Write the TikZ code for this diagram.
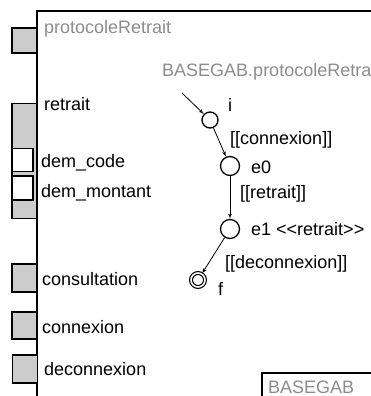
\documentclass[tikz,border=0pt]{standalone}
\usepackage{fontspec}
\setmainfont{Liberation Sans}
\usetikzlibrary{arrows,positioning}
\tikzset{
    port/.style={rectangle, draw, line width=1.6pt, fill=black!20, minimum width=25pt, inner sep=0pt},
    param/.style={rectangle, draw, line width=1.6pt, fill=white, minimum width=21pt, inner sep=0pt},
    lbl/.style={anchor=base west, inner sep=0pt, font=\fontsize{18}{20}\selectfont},
    ghost/.style={lbl, text=black!45},
    state/.style={circle, draw, line width=1.3pt, inner sep=0pt, minimum size=19pt},
    final/.style={circle, draw, double, double distance=1.6pt, line width=1.2pt, inner sep=0pt, minimum size=14pt},
    trans/.style={draw, -latex', line width=0.8pt}
}

\begin{document}
\begin{tikzpicture}[x=1pt, y=-1pt]
    \useasboundingbox (0,0) rectangle (371,396);

    % Frame of the component
    \draw[line width=2pt] (37,396) -- (37,11) -- (371,11);
    \draw[line width=2pt] (262,396) -- (262,373) -- (371,373);

    % Ports
    \node [port, minimum height=25pt] (pProto) at (24.5,40.5) {};
    \node [port, minimum height=115pt] (pRetrait) at (24.5,161) {};
    \node [param, minimum height=23pt] (pCode) at (22.5,160) {};
    \node [param, minimum height=24pt] (pMontant) at (22.5,188) {};
    \node [port, minimum height=28pt] (pConsult) at (24.5,278) {};
    \node [port, minimum height=27pt] (pConnex) at (24.5,325.5) {};
    \node [port, minimum height=28pt] (pDeconnex) at (25,369) {};

    % Port labels
    \node [ghost] (lProto) at (44,34) {protocoleRetrait};
    \node [lbl] (lRetrait) at (44,110) {retrait};
    \node [lbl] (lCode) at (41,167) {dem\_code};
    \node [lbl] (lMontant) at (41,197) {dem\_montant};
    \node [lbl] (lConsult) at (42,285) {consultation};
    \node [lbl] (lConnex) at (42,333) {connexion};
    \node [lbl] (lDeconnex) at (44,375) {deconnexion};

    % Protocol state machine
    \node [ghost] (title) at (162,76) {BASEGAB.protocoleRetrait};
    \coordinate (start) at (182,93);
    \node [state, minimum size=16pt] (i) at (210,120) {};
    \node [state] (e0) at (230,166) {};
    \node [state] (e1) at (230,229) {};
    \node [final] (f) at (198,280) {};

    \draw [trans] (start) -- (i);
    \draw [trans] (i) -- (e0);
    \draw [trans] (e0) -- (e1);
    \draw [trans] (e1) -- (f);

    % State and transition labels
    \node [lbl] (li) at (228,111) {i};
    \node [lbl] (tConnex) at (230,144) {[[connexion]]};
    \node [lbl] (le0) at (251,173) {e0};
    \node [lbl] (tRetrait) at (240,198) {[[retrait]]};
    \node [lbl] (le1) at (251,235) {e1 {<}{<}retrait{>}{>}};
    \node [lbl] (tDeconnex) at (225,268) {[[deconnexion]]};
    \node [lbl] (lf) at (218,295) {f};

    % Embedded component
    \node [ghost, text depth=0pt] (base) at (268,393) {BASEGAB};
\end{tikzpicture}
\end{document}
